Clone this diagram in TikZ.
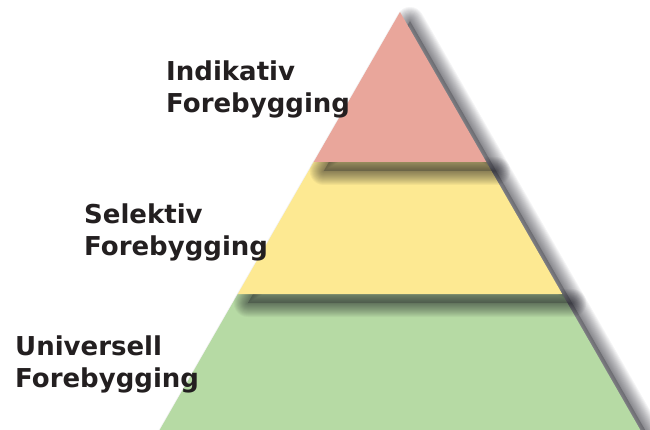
\documentclass[tikz,border=0pt]{standalone}
\usepackage{fontspec}
\setmainfont{DejaVu Sans}
\definecolor{layerred}{RGB}{233,166,155}
\definecolor{layeryellow}{RGB}{253,233,146}
\definecolor{layergreen}{RGB}{182,218,164}
\definecolor{textc}{RGB}{35,31,32}
\definecolor{shadowc}{RGB}{20,20,30}
\newcommand\layershadow[1]{%
  \begin{scope}[shift={(10,9)}]
    \fill[shadowc, opacity=0.25] #1;
    \foreach \w in {28,26,...,2}{%
      \draw[shadowc, opacity=0.042, line width=\w pt, line join=round] #1;}
  \end{scope}}
\begin{document}
\begin{tikzpicture}[x=1pt,y=-1pt,
  lbl/.style={font=\bfseries\fontsize{26}{32}\selectfont, align=left, anchor=base west, text=textc, inner sep=0pt}]
\useasboundingbox (0,0) rectangle (650,430);
\fill[white] (0,0) rectangle (650,430);
% green layer
\layershadow{(237.8,294) -- (562.2,294) -- (641.5,432) -- (158.5,432) -- cycle}
\fill[layergreen] (237.8,294) -- (562.2,294) -- (641.5,432) -- (158.5,432) -- cycle;
% yellow layer
\layershadow{(313.7,162) -- (486.3,162) -- (562.2,294) -- (237.8,294) -- cycle}
\fill[layeryellow] (313.7,162) -- (486.3,162) -- (562.2,294) -- (237.8,294) -- cycle;
% red layer
\layershadow{(400,12) -- (486.3,162) -- (313.7,162) -- cycle}
\fill[layerred] (400,12) -- (486.3,162) -- (313.7,162) -- cycle;
% labels
\node[lbl] (ind) at (166,113) {Indikativ\\Forebygging};
\node[lbl] (sel) at (84,255) {Selektiv\\Forebygging};
\node[lbl] (uni) at (15,387) {Universell\\Forebygging};
\end{tikzpicture}
\end{document}
